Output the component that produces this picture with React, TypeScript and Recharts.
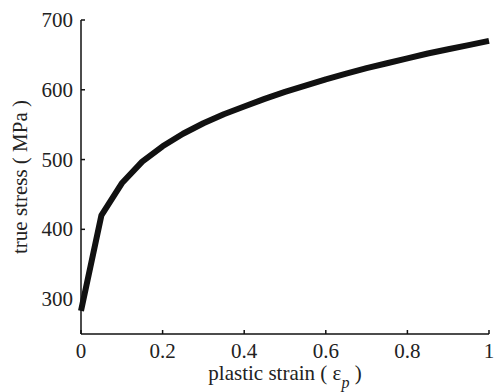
import React from 'react'
import { Line, LineChart, XAxis, YAxis, Label } from 'recharts'

// plastic strain samples and the read-off true stress (MPa)
const strain = [0, 0.05, 0.1, 0.15, 0.2, 0.25, 0.3, 0.35, 0.4, 0.45, 0.5, 0.55, 0.6, 0.65, 0.7, 0.75, 0.8, 0.85, 0.9, 0.95, 1]
const stress = [283, 420, 466, 497, 519, 537, 552, 565, 576, 587, 597, 606, 615, 623, 631, 638, 645, 652, 658, 664, 670]

const xTicks = [0, 0.2, 0.4, 0.6, 0.8, 1]
const yTicks = [300, 400, 500, 600, 700]

const data = strain.map((s, i) => ({ strain: s, stress: stress[i] }))

const serif = 'Liberation Serif, serif'
const font = { fontFamily: serif, fontSize: 21, fill: '#222' }

function XTick(props: any) {
  const { x, y, payload } = props
  return (
    <text x={x} y={y} dy={14} textAnchor="middle" style={{ fontFamily: serif }} fontSize={21} fill="#222">
      {String(payload.value)}
    </text>
  )
}

function YTick(props: any) {
  const { x, y, payload } = props
  return (
    <text x={x} y={y} dy={7} textAnchor="end" style={{ fontFamily: serif }} fontSize={21} fill="#222">
      {String(payload.value)}
    </text>
  )
}

function XLabel(props: any) {
  const vb = props.viewBox
  const cx = vb.x + vb.width / 2
  return (
    <text x={cx} y={380} textAnchor="middle" {...font}>
      plastic strain ( ε
      <tspan dy={8} fontStyle="italic" fontSize={16}>p</tspan>
      <tspan dy={-8}>{'  )'}</tspan>
    </text>
  )
}

function YLabel(props: any) {
  const vb = props.viewBox
  const cy = vb.y + vb.height / 2
  return (
    <text x={20} y={cy} textAnchor="middle" dominantBaseline="central" transform={`rotate(-90, 20, ${cy})`} {...font}>
      true stress ( MPa )
    </text>
  )
}

export default function App() {
  return (
    <div style={{ position: 'absolute', left: 0, top: 0, width: 494, height: 392, background: '#fff' }}>
      <LineChart
        width={494}
        height={392}
        data={data}
        margin={{ top: 20, right: 5, left: 0, bottom: 0 }}
        style={{ fontFamily: serif, overflow: 'visible' }}
      >
        <XAxis
          dataKey="strain"
          type="number"
          domain={[0, 1]}
          ticks={xTicks}
          interval={0}
          height={58}
          tickSize={-4}
          tickMargin={14}
          stroke="#111"
          strokeWidth={1.5}
          tick={<XTick />}
        >
          <Label content={<XLabel />} />
        </XAxis>
        <YAxis
          dataKey="stress"
          type="number"
          domain={[250, 700]}
          ticks={yTicks}
          interval={0}
          width={81}
          tickSize={-4}
          tickMargin={12}
          stroke="#111"
          strokeWidth={1.5}
          tick={<YTick />}
        >
          <Label content={<YLabel />} />
        </YAxis>
        <Line
          type="linear"
          dataKey="stress"
          stroke="#111"
          strokeWidth={6}
          dot={false}
          strokeLinejoin="round"
          isAnimationActive={false}
        />
      </LineChart>
    </div>
  )
}
